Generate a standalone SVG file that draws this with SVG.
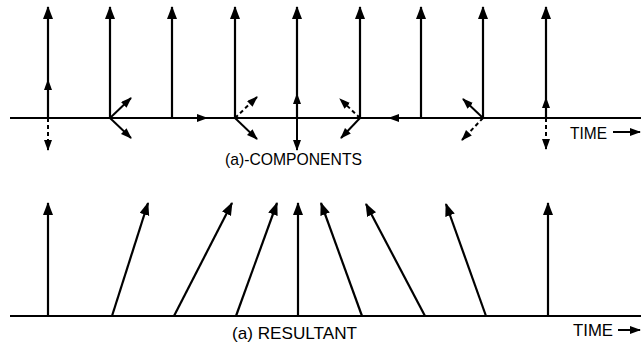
<svg xmlns="http://www.w3.org/2000/svg" width="641" height="346" viewBox="0 0 641 346">
  <style>
    .ax { stroke: #000; stroke-width: 2; fill: none; }
    .v { stroke: #000; stroke-width: 2.2; fill: none; marker-end: url(#ah); }
    .s { stroke: #000; stroke-width: 2; fill: none; marker-end: url(#ahs); }
    .d { stroke-dasharray: 4 3; }
    .t { font-family: "Liberation Sans", Arial, sans-serif; font-size: 17px; fill: #000; }
  </style>
  <defs>
    <marker id="ah" markerUnits="userSpaceOnUse" markerWidth="14" markerHeight="11" refX="12" refY="5" orient="auto">
      <path d="M0,0 L13,5 L0,10 z" fill="#000"/>
    </marker>
    <marker id="ahs" markerUnits="userSpaceOnUse" markerWidth="12" markerHeight="9" refX="10" refY="4" orient="auto">
      <path d="M0,0 L11,4 L0,8 z" fill="#000"/>
    </marker>
  </defs>
  <rect width="641" height="346" fill="#fff"/>

  <g id="components">
    <line class="ax" x1="10" y1="118" x2="641" y2="118"/>
    <g id="c1">
      <line class="v" x1="48" y1="118" x2="48" y2="7"/>
      <line class="s" x1="48" y1="118" x2="48" y2="80"/>
      <line class="s d" x1="48" y1="118" x2="48" y2="150"/>
    </g>
    <g id="c2">
      <line class="v" x1="110" y1="118" x2="110" y2="7"/>
      <line class="s" x1="110" y1="118" x2="131" y2="98"/>
      <line class="s" x1="110" y1="118" x2="131" y2="138"/>
    </g>
    <g id="c3">
      <line class="v" x1="172" y1="118" x2="172" y2="7"/>
      <line class="s" x1="172" y1="118" x2="207" y2="118"/>
    </g>
    <g id="c4">
      <line class="v" x1="235" y1="118" x2="235" y2="7"/>
      <line class="s d" x1="235" y1="118" x2="257" y2="97"/>
      <line class="s" x1="235" y1="118" x2="257" y2="139"/>
    </g>
    <g id="c5">
      <line class="v" x1="297" y1="118" x2="297" y2="7"/>
      <line class="s d" x1="297" y1="118" x2="297" y2="94"/>
      <line class="s" x1="297" y1="118" x2="297" y2="150"/>
    </g>
    <g id="c6">
      <line class="v" x1="360" y1="118" x2="360" y2="7"/>
      <line class="s d" x1="360" y1="118" x2="340" y2="99"/>
      <line class="s" x1="360" y1="118" x2="341" y2="138"/>
    </g>
    <g id="c7">
      <line class="v" x1="421" y1="118" x2="421" y2="7"/>
      <line class="s" x1="421" y1="118" x2="389" y2="118"/>
    </g>
    <g id="c8">
      <line class="v" x1="483" y1="118" x2="483" y2="7"/>
      <line class="s" x1="483" y1="118" x2="463" y2="99"/>
      <line class="s d" x1="483" y1="118" x2="462" y2="140"/>
    </g>
    <g id="c9">
      <line class="v" x1="546" y1="118" x2="546" y2="7"/>
      <line class="s" x1="546" y1="118" x2="546" y2="98"/>
      <line class="s d" x1="546" y1="118" x2="546" y2="149"/>
    </g>
    <text class="t" x="570" y="139" textLength="37" lengthAdjust="spacingAndGlyphs">TIME</text>
    <line class="s" x1="613" y1="132" x2="640" y2="132"/>
    <text class="t" x="225" y="165" textLength="137" lengthAdjust="spacingAndGlyphs">(a)-COMPONENTS</text>
  </g>

  <g id="resultant">
    <line class="ax" x1="10" y1="316" x2="641" y2="316"/>
    <g id="r1"><line class="v" x1="48" y1="316" x2="48" y2="203"/></g>
    <g id="r2"><line class="v" x1="112" y1="316" x2="148" y2="203"/></g>
    <g id="r3"><line class="v" x1="174" y1="316" x2="232" y2="203"/></g>
    <g id="r4"><line class="v" x1="236" y1="316" x2="277" y2="203"/></g>
    <g id="r5"><line class="v" x1="298" y1="316" x2="298" y2="203"/></g>
    <g id="r6"><line class="v" x1="362" y1="316" x2="321" y2="203"/></g>
    <g id="r7"><line class="v" x1="425" y1="316" x2="366" y2="204"/></g>
    <g id="r8"><line class="v" x1="486" y1="316" x2="446" y2="204"/></g>
    <g id="r9"><line class="v" x1="548" y1="316" x2="548" y2="203"/></g>
    <text class="t" x="573" y="336" textLength="40" lengthAdjust="spacingAndGlyphs">TIME</text>
    <line class="s" x1="618" y1="330" x2="640" y2="330"/>
    <text class="t" x="232" y="339" textLength="125" lengthAdjust="spacingAndGlyphs">(a) RESULTANT</text>
  </g>
</svg>
